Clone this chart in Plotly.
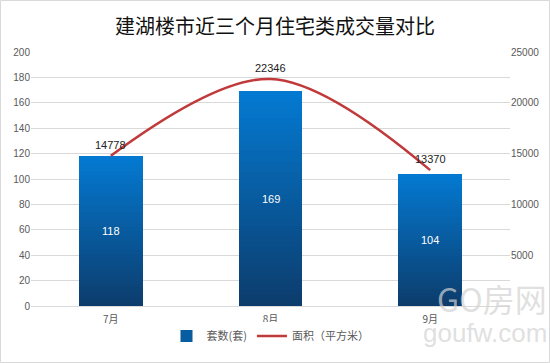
import plotly.graph_objects as go

months = ["7月", "8月", "9月"]
units = [118, 169, 104]          # 套数(套)
area = [14778, 22346, 13370]     # 面积（平方米）
left_ticks = list(range(0, 201, 20))
right_ticks = [0, 5000, 10000, 15000, 20000, 25000]
right_ticklabels = ["", "5000", "10000", "15000", "20000", "25000"]

W, H = 550, 363
ML, MR, MT, MB = 31, 40, 52, 57

top_rgb = (4, 122, 210)
bot_rgb = (12, 60, 108)
N = 40

fig = go.Figure()
for i in range(N):
    t = (i + 0.5) / N
    c = tuple(int(round(b + (a - b) * t)) for a, b in zip(top_rgb, bot_rgb))
    fig.add_trace(go.Bar(
        x=months, y=[u / N for u in units],
        marker=dict(color="rgb(%d,%d,%d)" % c, line=dict(width=0)),
        width=0.4, name="套数(套)", showlegend=(i == N // 2), legendrank=1,
        hoverinfo="skip", yaxis="y"))

fig.add_trace(go.Scatter(
    x=months, y=area, mode="lines", name="面积（平方米）",
    line=dict(color="#c0393b", width=2.5, shape="spline", smoothing=1.0),
    yaxis="y2", legendrank=2, cliponaxis=False))

for m, a in zip(months, area):
    fig.add_annotation(x=m, y=a, xref="x", yref="y2", text=str(a), showarrow=False,
                       yshift=11, font=dict(size=11, color="#222222", family="Liberation Sans"))

for m, u in zip(months, units):
    fig.add_annotation(x=m, y=u / 2, text=str(u), showarrow=False,
                       font=dict(color="white", size=11, family="Liberation Sans"),
                       xref="x", yref="y")

pw = W - ML - MR
ph = H - MT - MB
# border
fig.add_shape(type="rect", xref="paper", yref="paper",
              x0=-(ML - 0.5) / pw, x1=1 + (MR - 0.5) / pw,
              y0=-(MB - 0.5) / ph, y1=1 + (MT - 0.5) / ph,
              line=dict(color="#d9d9d9", width=1), layer="below")

# watermark
fig.add_annotation(xref="paper", yref="paper", x=1 + 39 / pw, y=-17 / ph,
                   text="GO房网", showarrow=False, xanchor="right", yanchor="bottom",
                   font=dict(size=32, color="rgba(210,210,210,0.7)", family="Noto Sans CJK SC"))
fig.add_annotation(xref="paper", yref="paper", x=1 + 39 / pw, y=-44 / ph,
                   text="goufw.com", showarrow=False, xanchor="right", yanchor="bottom",
                   font=dict(size=26, color="rgba(210,210,210,0.7)", family="Liberation Sans"))

fig.update_layout(
    width=W, height=H,
    margin=dict(l=ML, r=MR, t=MT, b=MB, autoexpand=False),
    paper_bgcolor="white", plot_bgcolor="white",
    barmode="stack", bargap=0.6,
    title=dict(text="建湖楼市近三个月住宅类成交量对比", x=0.5, xanchor="center",
               y=1 - 27 / H, yanchor="middle",
               font=dict(size=20, color="#111111", family="Noto Sans CJK SC")),
    xaxis=dict(showgrid=False, showline=True, linecolor="#d9d9d9", ticks="",
               automargin=False, ticklabelstandoff=4,
               tickfont=dict(size=10, color="#595959", family="Noto Sans CJK SC")),
    yaxis=dict(range=[0, 200], tickvals=left_ticks, showgrid=True, gridcolor="#d9d9d9",
               zeroline=False, ticks="", automargin=False,
               tickfont=dict(size=10, color="#595959", family="Liberation Sans")),
    yaxis2=dict(range=[0, 25000], tickvals=right_ticks, ticktext=right_ticklabels,
                overlaying="y", side="right", showgrid=False, zeroline=False,
                automargin=False,
                tickfont=dict(size=10, color="#595959", family="Liberation Sans")),
    legend=dict(orientation="h", x=0.5, xanchor="center", y=-30 / ph, yanchor="middle",
                font=dict(size=11, color="#595959", family="Noto Sans CJK SC"),
                traceorder="normal"),
    showlegend=True,
)

fig.write_html("out.html", config={"displayModeBar": False},
               post_script="document.body.style.margin='0';document.body.style.padding='0';")
